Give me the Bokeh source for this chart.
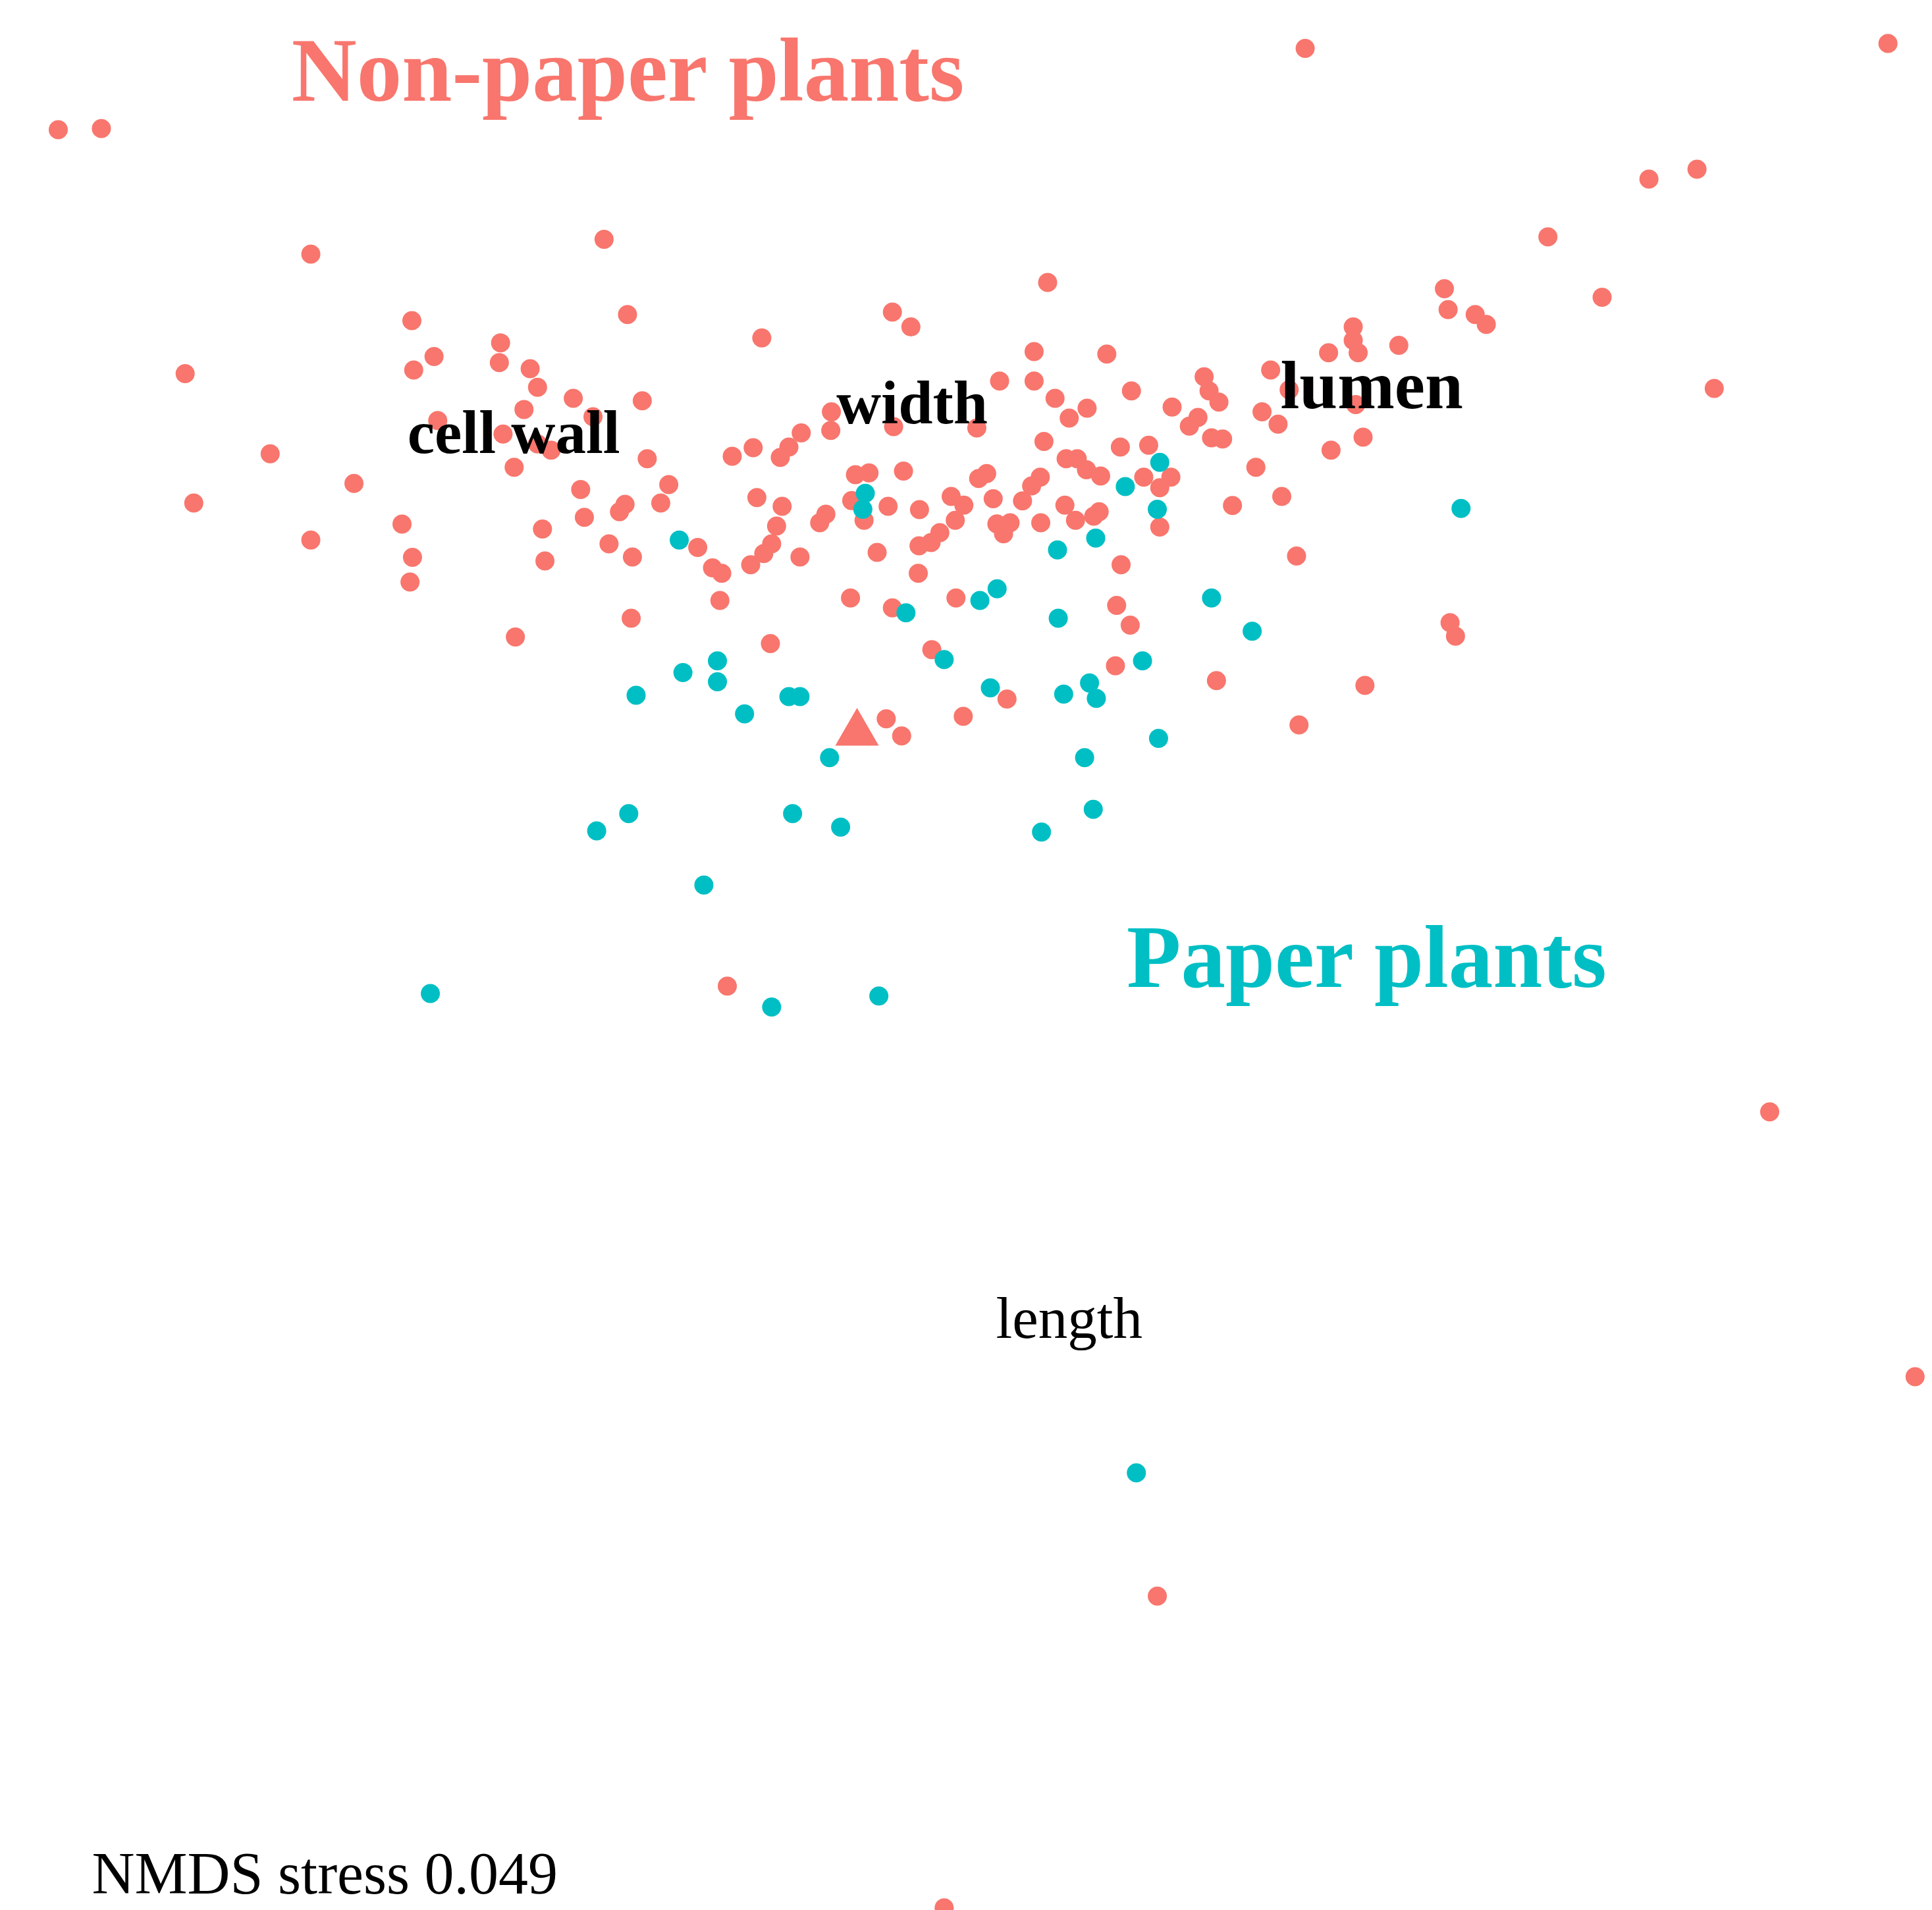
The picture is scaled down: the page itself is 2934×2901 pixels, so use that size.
from bokeh.plotting import figure
from bokeh.models import Range1d
from bokeh.core.properties import value
from bokeh.embed import file_html
from bokeh.resources import INLINE

# NMDS scores (arbitrary ordination units; y grows downward)
nonpaper_x = [47, 82, 1059, 1532, 1338, 1377, 1256, 1300, 1391, 490, 252, 150, 219, 157, 252, 287,
              1436, 1554, 939, 766, 590,
              850, 1172, 1175, 1197, 1206, 1098, 1098, 1102, 1135, 1078, 839, 898, 1031, 1046, 1100,
              811, 839, 918, 977, 981, 989, 856, 882, 867.5, 951, 972, 965, 1024, 1037, 983, 992,
              792.5, 1106, 1080, 847, 909, 932, 1019, 865, 874, 881.5, 893, 800.5, 794, 844, 837,
              928, 950, 941, 771.7, 782, 775, 805.8, 829.6, 864, 872.6, 891.8, 887.4, 941, 1000,
              1040, 808.8, 819.5, 814.2, 844.4, 762.5, 755.4, 745.6, 1052,
              334, 509, 724, 739, 618, 406, 352, 405, 335.5, 430, 436, 465, 521, 425, 481, 355,
              674.5, 725, 674, 650, 408, 436, 447, 611, 640, 633, 594, 525, 417, 694, 705, 733,
              542.5, 471, 691, 701, 720.5, 746, 614, 634.5, 630, 670, 665, 507, 502.5, 536, 474,
              326, 440, 566, 494, 626, 711.6, 334.5,
              332.5, 442, 513, 578, 585.5, 609, 619.6, 649, 745, 584, 512, 418, 690, 724, 625,
              756, 719, 731.5,
              909.6, 775.6, 906, 917, 1176.6, 1181, 905, 987, 1107.5, 817, 781.5, 1054]
nonpaper_y = [105, 104, 39, 35, 145, 137, 192, 241, 315, 194, 206, 303, 368, 408, 438, 392,
              902, 1117, 1295, 1548, 800,
              229, 234, 251, 255, 263, 265, 276, 286, 280, 286, 285, 287, 300, 316, 328,
              309, 309, 317, 305.5, 317, 326, 323, 331, 339, 330, 338.5, 345.6, 334, 344, 355, 356,
              347, 354.5, 365, 358, 362.5, 361, 379, 372, 372, 381, 386, 384, 388, 387, 394,
              387, 387, 395.5, 402.6, 409.7, 422, 404.4, 406.2, 409.7, 422, 415, 418.6, 427.5, 410,
              402.6, 424.9, 424, 432.9, 424, 432, 440, 442.7, 451,
              260, 255, 253, 265, 274, 278, 289, 294, 300, 299, 314, 323, 325, 332, 338, 341,
              334, 346, 349, 351, 352, 360, 365, 363, 362.5, 371, 370, 372, 379, 385, 383.5, 382,
              393, 397, 406, 422, 410.6, 413.3, 403.5, 410.6, 426.6, 417, 424, 409, 415, 408, 419.5,
              425, 429, 444, 441, 441, 448, 452,
              472, 455, 451.7, 460.6, 465, 458, 449, 451.7, 465, 487, 501.5, 516.7, 485, 493, 522,
              527, 583, 597,
              458, 485, 491, 507, 505, 516, 540, 552, 556, 567, 581, 588]

paper_x = [702, 700, 551, 735, 766, 582, 554, 582, 516, 640, 649, 604, 673, 510, 643,
           941, 913, 939, 1185.5, 889, 858,
           795, 809, 858.6, 983, 1016, 927, 803.5, 863, 884, 889.5, 940, 880, 887,
           484, 682, 845, 571, 349, 626, 713, 922]
paper_y = [400, 413, 438, 497, 535, 536, 545.5, 553, 564, 565, 565, 579, 614.6, 660, 660,
           375, 394.6, 413, 412.4, 436.4, 446,
           487, 477.5, 501.5, 485, 512, 536, 558, 563, 554, 566.5, 599, 614.6, 656.5,
           674, 671, 675, 718, 806, 817, 808, 1195]

centroid_x = [695.3]
centroid_y = [594.6]

var_labels = ["cell wall", "width", "lumen", "length"]
var_x = [416.7, 740, 1113, 867.5]
var_y = [365, 341, 328, 1083]

group_labels = ["Non-paper plants", "Paper plants"]
group_x = [510, 1109.5]
group_y = [78, 797]

stress_label = "NMDS stress 0.049"
stress_x = [74.3]
stress_y = [1534]

RED = "#F8766D"
CYAN = "#00BFC4"
FONT = value("Liberation Serif")

W, H = 2926, 2901
sx = 2934 / 1568
sy = 2901 / 1550
p = figure(width=W, height=H, output_backend="svg", toolbar_location=None,
           x_range=Range1d(0, W / sx),
           y_range=Range1d(H / sy, 0),
           min_border=0, background_fill_color="white", border_fill_color="white")
p.axis.visible = False
p.xgrid.visible = False
p.ygrid.visible = False
p.outline_line_color = None

p.scatter(nonpaper_x, nonpaper_y, size=29, fill_color=RED, line_color=None)
p.scatter(paper_x, paper_y, size=29, fill_color=CYAN, line_color=None)
p.scatter(centroid_x, centroid_y, marker="triangle", size=66, fill_color=RED, line_color=None)


def label(x, y, txt, px, color, style, align="center"):
    # shift so the drawn baseline lands where the reference baseline is
    shift = 0.29 * px / sy
    p.text(x, [v - shift for v in y], text=txt, text_font=FONT, text_font_style=style,
           text_font_size=value(f"{px}px"), text_align=align, text_baseline="alphabetic",
           text_color=color)


label([var_x[0]], [var_y[0]], [var_labels[0]], 93, "black", "bold")
label([var_x[1]], [var_y[1]], [var_labels[1]], 94, "black", "bold")
label([var_x[2]], [var_y[2]], [var_labels[2]], 104, "black", "bold")
label([var_x[3]], [var_y[3]], [var_labels[3]], 89, "black", "normal")
label([group_x[0]], [group_y[0]], [group_labels[0]], 137, RED, "bold")
label([group_x[1]], [group_y[1]], [group_labels[1]], 135, CYAN, "bold")
label(stress_x, stress_y, [stress_label], 90, "black", "normal", align="left")

open("out.html", "w").write(file_html(p, INLINE))
